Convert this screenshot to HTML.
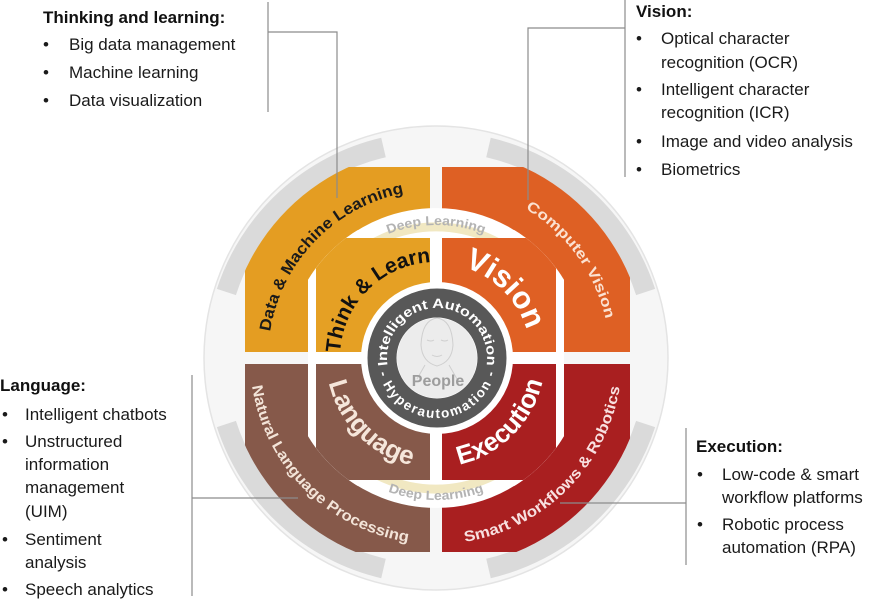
<!DOCTYPE html>
<html><head><meta charset="utf-8"><style>
html,body{margin:0;padding:0;background:#fff;}
svg{display:block;}
.t{font-family:"Liberation Sans",Arial,sans-serif;font-size:17px;fill:#1a1a1a;}
.h{font-family:"Liberation Sans",Arial,sans-serif;font-size:17px;font-weight:bold;fill:#111;}
.a{font-family:"Liberation Sans",Arial,sans-serif;font-weight:bold;}
</style></head><body>
<svg width="881" height="599" viewBox="0 0 881 599" xmlns="http://www.w3.org/2000/svg">
<defs>
<clipPath id="co"><circle cx="436" cy="358" r="210"/></clipPath>
<clipPath id="ci"><circle cx="436" cy="358" r="150"/></clipPath>
<path id="t168" d="M436,526 A168,168 0 1 1 436,190 A168,168 0 1 1 436,526"/>
<path id="t174" d="M436,532 A174,174 0 1 1 436,184 A174,174 0 1 1 436,532"/>
<path id="t96" d="M436,454 A96,96 0 1 1 436,262 A96,96 0 1 1 436,454"/>
<path id="t95" d="M436,453 A95,95 0 1 1 436,263 A95,95 0 1 1 436,453"/>
<path id="t50" d="M437,408 A50,50 0 1 1 437,308 A50,50 0 1 1 437,408"/>
<path id="t133" d="M436,491 A133,133 0 1 1 436,225 A133,133 0 1 1 436,491"/>
<path id="b186" d="M436,172 A186,186 0 1 0 436,544 A186,186 0 1 0 436,172"/>
<path id="b110" d="M436,248 A110,110 0 1 0 436,468 A110,110 0 1 0 436,248"/>
<path id="b109" d="M436,249 A109,109 0 1 0 436,467 A109,109 0 1 0 436,249"/>
<path id="b60" d="M437,298 A60,60 0 1 0 437,418 A60,60 0 1 0 437,298"/>
<path id="b142" d="M436,216 A142,142 0 1 0 436,500 A142,142 0 1 0 436,216"/>
</defs>

<circle cx="436" cy="358" r="232" fill="#f6f6f6" stroke="#e4e4e4" stroke-width="1.5"/>
<g fill="none" stroke="#dadada" stroke-width="20">
<path d="M226.4,292.0 A217,217 0 0 1 383.5,147.5"/>
<path d="M488.5,147.5 A217,217 0 0 1 645.6,292.0"/>
<path d="M645.6,424.0 A217,217 0 0 1 488.5,568.5"/>
<path d="M383.5,568.5 A217,217 0 0 1 226.4,424.0"/>
</g>

<g clip-path="url(#co)">
<rect x="245" y="167" width="185" height="185" fill="#e49d22"/>
<rect x="442" y="167" width="188" height="185" fill="#de6024"/>
<rect x="245" y="364" width="185" height="188" fill="#86594a"/>
<rect x="442" y="364" width="188" height="188" fill="#a91f20"/>
</g>

<g clip-path="url(#co)">
<rect x="308" y="230" width="256" height="256" fill="#fff" clip-path="url(#ci)"/>
</g>
<path d="M326.9,282.0 A133,133 0 0 1 545.1,282.0" fill="none" stroke="#fff" stroke-width="34" stroke-linecap="round"/>
<path d="M326.9,434.0 A133,133 0 0 0 545.1,434.0" fill="none" stroke="#fff" stroke-width="34" stroke-linecap="round"/>
<path d="M343.1,266.0 A130,130 0 0 1 528.9,266.0" fill="none" stroke="#f1e8c2" stroke-width="9"/>
<path d="M343.1,450.0 A130,130 0 0 0 528.9,450.0" fill="none" stroke="#f1e8c2" stroke-width="9"/>

<g clip-path="url(#ci)">
<rect x="316" y="238" width="114" height="114" fill="#e5a024"/>
<rect x="442" y="238" width="114" height="114" fill="#df6024"/>
<rect x="316" y="364" width="114" height="116" fill="#86594a"/>
<rect x="442" y="364" width="114" height="116" fill="#a91f20"/>
</g>
<circle cx="437" cy="358" r="76" fill="#fff"/>
<circle cx="437" cy="358" r="55" fill="none" stroke="#585858" stroke-width="29"/>
<circle cx="437" cy="358" r="40" fill="#ececec"/>
<g fill="none" stroke="#cfcfcf" stroke-width="1">
<path d="M421,345 Q422,320 437,318 Q452,320 453,345 Q452,362 437,366 Q422,362 421,345"/>
<path d="M427,340 q4,2 7,0 M441,340 q4,2 7,0 M432,355 q5,3 10,0 M425,365 l-8,14 M449,365 l8,14"/>
</g>
<text class="a" x="438" y="386" text-anchor="middle" font-size="16" fill="#9d9d9d">People</text>

<text class="a" font-size="13.5" fill="#fff"><textPath href="#t50" startOffset="50%" text-anchor="middle" textLength="172" lengthAdjust="spacingAndGlyphs">Intelligent Automation</textPath></text>
<text class="a" font-size="13.5" fill="#fff"><textPath href="#b60" startOffset="50%" text-anchor="middle" textLength="158" lengthAdjust="spacing">- Hyperautomation -</textPath></text>

<text class="a" font-size="13" fill="#b3b3b3"><textPath href="#t133" startOffset="50%" text-anchor="middle" textLength="98" lengthAdjust="spacingAndGlyphs">Deep Learning</textPath></text>
<text class="a" font-size="13" fill="#b3b3b3"><textPath href="#b142" startOffset="50%" text-anchor="middle" textLength="98" lengthAdjust="spacingAndGlyphs">Deep Learning</textPath></text>

<g transform="rotate(-46 436 358)"><text class="a" font-size="16" fill="#1a1a1a"><textPath href="#t168" startOffset="50%" text-anchor="middle" textLength="205" lengthAdjust="spacingAndGlyphs">Data &amp; Machine Learning</textPath></text></g>
<g transform="rotate(54 436 358)"><text class="a" font-size="14.5" fill="#fbe2d2"><textPath href="#t174" startOffset="50%" text-anchor="middle" textLength="140" lengthAdjust="spacingAndGlyphs">Computer Vision</textPath></text></g>
<g transform="rotate(45 436 358)"><text class="a" font-size="15" fill="#f3e4d8"><textPath href="#b186" startOffset="50%" text-anchor="middle" textLength="236" lengthAdjust="spacingAndGlyphs">Natural Language Processing</textPath></text></g>
<g transform="rotate(-45 436 358)"><text class="a" font-size="15" fill="#f8e0e0"><textPath href="#b186" startOffset="50%" text-anchor="middle" textLength="234" lengthAdjust="spacingAndGlyphs">Smart Workflows &amp; Robotics</textPath></text></g>

<g transform="rotate(-45 436 358)"><text class="a" font-size="21" fill="#111"><textPath href="#t96" startOffset="50%" text-anchor="middle">Think &amp; Learn</textPath></text></g>
<g transform="rotate(45 436 358)"><text class="a" font-size="31" fill="#fff"><textPath href="#t95" startOffset="50%" text-anchor="middle">Vision</textPath></text></g>
<g transform="rotate(45 436 358)"><text class="a" font-size="26" fill="#f5e6da"><textPath href="#b110" startOffset="50%" text-anchor="middle">Language</textPath></text></g>
<g transform="rotate(-45 436 358)"><text class="a" font-size="26" fill="#fff"><textPath href="#b109" startOffset="50%" text-anchor="middle">Execution</textPath></text></g>

<g stroke="#8c8c8c" stroke-width="1.2" fill="none">
<path d="M268,2 V112 M268,32 H337 V198"/>
<path d="M625,0 V177 M625,28 H528 V200"/>
<path d="M192,375 V596 M192,498 H298"/>
<path d="M686,428 V565 M686,503 H560"/>
</g>

<text class="h" x="43" y="23">Thinking and learning:</text>
<text class="t" x="43" y="50">•</text><text class="t" x="69" y="50">Big data management</text>
<text class="t" x="43" y="78">•</text><text class="t" x="69" y="78">Machine learning</text>
<text class="t" x="43" y="106">•</text><text class="t" x="69" y="106">Data visualization</text>

<text class="h" x="636" y="17">Vision:</text>
<text class="t" x="636" y="44">•</text><text class="t" x="661" y="44">Optical character</text>
<text class="t" x="661" y="68">recognition (OCR)</text>
<text class="t" x="636" y="95">•</text><text class="t" x="661" y="95">Intelligent character</text>
<text class="t" x="661" y="118">recognition (ICR)</text>
<text class="t" x="636" y="147">•</text><text class="t" x="661" y="147">Image and video analysis</text>
<text class="t" x="636" y="175">•</text><text class="t" x="661" y="175">Biometrics</text>

<text class="h" x="0" y="391">Language:</text>
<text class="t" x="2" y="420">•</text><text class="t" x="25" y="420">Intelligent chatbots</text>
<text class="t" x="2" y="447">•</text><text class="t" x="25" y="447">Unstructured</text>
<text class="t" x="25" y="470">information</text>
<text class="t" x="25" y="493">management</text>
<text class="t" x="25" y="517">(UIM)</text>
<text class="t" x="2" y="545">•</text><text class="t" x="25" y="545">Sentiment</text>
<text class="t" x="25" y="568">analysis</text>
<text class="t" x="2" y="595">•</text><text class="t" x="25" y="595">Speech analytics</text>

<text class="h" x="696" y="452">Execution:</text>
<text class="t" x="697" y="480">•</text><text class="t" x="722" y="480">Low-code &amp; smart</text>
<text class="t" x="722" y="503">workflow platforms</text>
<text class="t" x="697" y="530">•</text><text class="t" x="722" y="530">Robotic process</text>
<text class="t" x="722" y="553">automation (RPA)</text>
</svg>
</body></html>
